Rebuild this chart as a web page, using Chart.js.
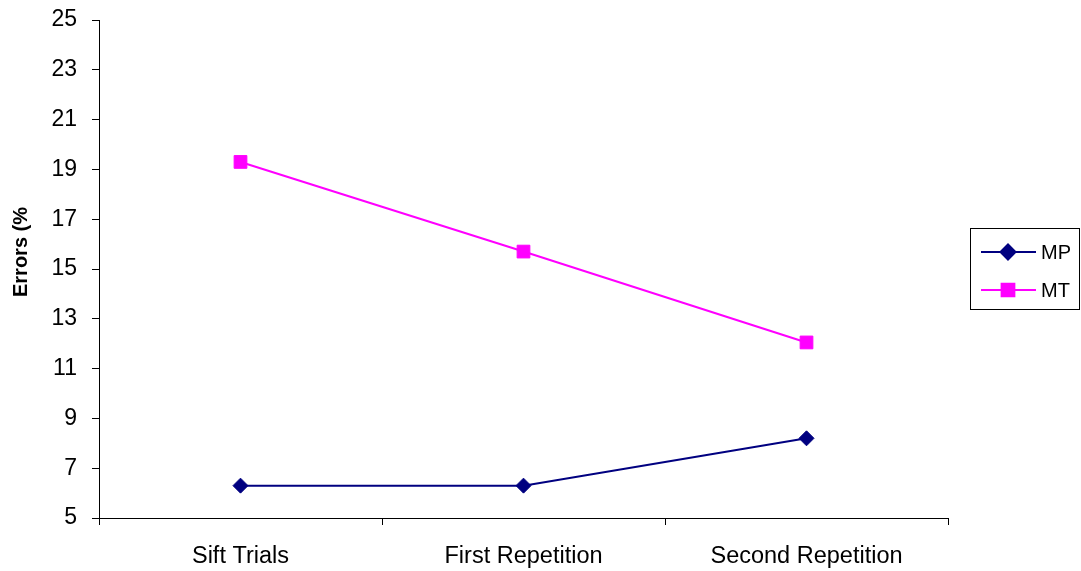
<!DOCTYPE html>
<html>
<head>
<meta charset="utf-8">
<script src="https://cdn.jsdelivr.net/npm/chart.js@4"></script>
<style>
  html, body { margin: 0; padding: 0; background: #fff; }
  #wrap { width: 1081px; height: 571px; }
</style>
</head>
<body>
<div id="wrap"><canvas id="myChart" width="1081" height="571"></canvas></div>
<script>
const categories = ['Sift Trials', 'First Repetition', 'Second Repetition'];
const mpValues = [6.3, 6.3, 8.2];
const mtValues = [19.3, 15.7, 12.05];
const yTicks = [5, 7, 9, 11, 13, 15, 17, 19, 21, 23, 25];

const FONT = "'Liberation Sans', Arial, sans-serif";

// legend box + y title drawn by hand, the built-in legend can't do the boxed Excel look
const excelBits = {
    id: 'excelBits',
    afterDraw(chart) {
        const ctx = chart.ctx;
        ctx.save();

        // y axis title (clipped in the original)
        ctx.translate(21, 252);
        ctx.rotate(-Math.PI / 2);
        ctx.font = "bold 20px " + FONT;
        ctx.fillStyle = '#000';
        ctx.textAlign = 'center';
        ctx.textBaseline = 'middle';
        ctx.fillText('Errors (%', 0, 0);
        ctx.setTransform(1, 0, 0, 1, 0, 0);

        // legend
        ctx.strokeStyle = '#000';
        ctx.lineWidth = 1;
        ctx.strokeRect(970.5, 228.5, 109, 81);

        const rows = [252, 290];
        chart.data.datasets.forEach((ds, i) => {
            const y = rows[i];
            ctx.strokeStyle = ds.borderColor;
            ctx.lineWidth = 2;
            ctx.beginPath();
            ctx.moveTo(981, y);
            ctx.lineTo(1036, y);
            ctx.stroke();
            Chart.helpers.drawPoint(ctx, {
                pointStyle: ds.pointStyle,
                radius: ds.pointRadius,
                borderWidth: 1
            }, 1008, y);
            ctx.fillStyle = ds.pointBackgroundColor;
            ctx.fill();
            ctx.fillStyle = '#000';
            ctx.font = "20px " + FONT;
            ctx.textAlign = 'left';
            ctx.textBaseline = 'middle';
            ctx.fillText(ds.label, 1041, y + 1);
        });
        ctx.restore();
    }
};

const chartConfig = {
    type: 'line',
    data: {
        labels: categories,
        datasets: [
            {
                label: 'MP',
                data: mpValues,
                borderColor: '#000080',
                backgroundColor: '#000080',
                pointBackgroundColor: '#000080',
                pointBorderColor: '#000080',
                borderWidth: 2,
                pointStyle: 'rectRot',
                pointRadius: 7.5,
                pointBorderWidth: 1,
                tension: 0
            },
            {
                label: 'MT',
                data: mtValues,
                borderColor: '#FF00FF',
                backgroundColor: '#FF00FF',
                pointBackgroundColor: '#FF00FF',
                pointBorderColor: '#FF00FF',
                borderWidth: 2,
                pointStyle: 'rect',
                pointRadius: 9,
                pointBorderWidth: 1,
                tension: 0
            }
        ]
    },
    options: {
        responsive: false,
        animation: false,
        layout: { padding: { top: 20, right: 133, left: 0, bottom: 0 } },
        plugins: {
            legend: { display: false },
            tooltip: { enabled: false }
        },
        scales: {
            x: {
                offset: true,
                grid: {
                    offset: true,
                    drawOnChartArea: false,
                    drawTicks: true,
                    tickLength: 7,
                    color: '#000'
                },
                border: { color: '#000', width: 1 },
                ticks: {
                    color: '#000',
                    padding: 17,
                    maxRotation: 0,
                    font: { family: FONT, size: 23.5 }
                },
                afterFit(scale) { scale.height = 53; }
            },
            y: {
                min: 5,
                max: 25,
                afterBuildTicks(scale) {
                    scale.ticks = yTicks.map(v => ({ value: v }));
                },
                grid: {
                    drawOnChartArea: false,
                    drawTicks: true,
                    tickLength: 7,
                    color: '#000'
                },
                border: { color: '#000', width: 1 },
                ticks: {
                    color: '#000',
                    padding: 15,
                    font: { family: FONT, size: 23 }
                },
                afterFit(scale) {
                    scale.width = 99;
                    scale.paddingTop = 0;
                    scale.paddingBottom = 0;
                }
            }
        }
    },
    plugins: [excelBits]
};

new Chart(document.getElementById('myChart'), chartConfig);
</script>
</body>
</html>
